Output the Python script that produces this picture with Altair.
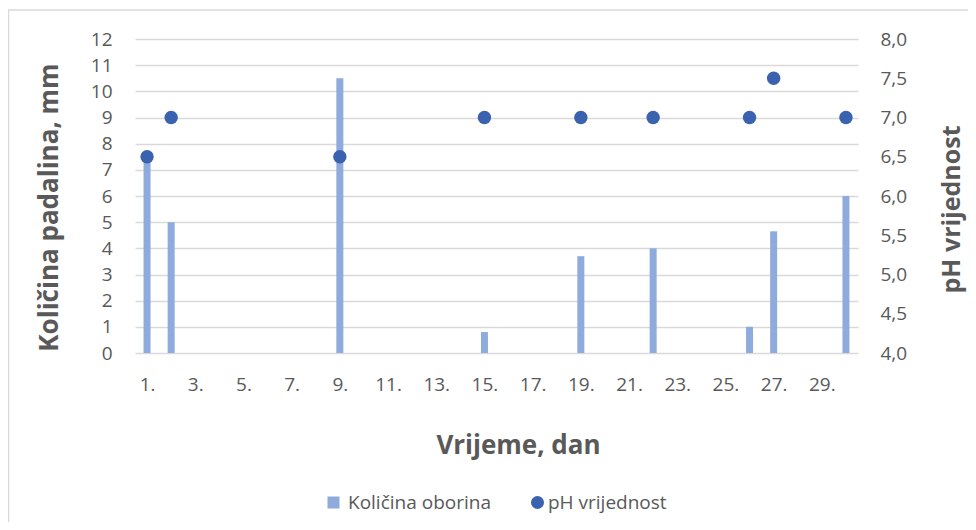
import altair as alt
import pandas as pd

FONT = "Open Sans"
TXT = "#595959"
GRID = "#d9d9d9"
BAR_COLOR = "#8FAADC"
DOT_COLOR = "#3A62AE"

# ---- data ----
rain_days = [1, 2, 9, 15, 19, 22, 26, 27, 30]
rain_mm = [7.5, 5.0, 10.5, 0.8, 3.7, 4.0, 1.0, 4.65, 6.0]
ph_days = [1, 2, 9, 15, 19, 22, 26, 27, 30]
ph_values = [6.5, 7.0, 6.5, 7.0, 7.0, 7.0, 7.0, 7.5, 7.0]
x_ticks = [1, 3, 5, 7, 9, 11, 13, 15, 17, 19, 21, 23, 25, 27, 29]
left_ticks = [0, 1, 2, 3, 4, 5, 6, 7, 8, 9, 10, 11, 12]
right_ticks = [4.0, 4.5, 5.0, 5.5, 6.0, 6.5, 7.0, 7.5, 8.0]
rain_name = "Količina oborina"
ph_name = "pH vrijednost"

rain_df = pd.DataFrame({"dan": rain_days, "mm": rain_mm, "serija": [rain_name] * len(rain_days)})
ph_df = pd.DataFrame({"dan": ph_days, "ph": ph_values, "serija": [ph_name] * len(ph_days)})

W, H = 723, 314

x_scale = alt.Scale(domain=[0.5, 30.5], nice=False, zero=False, padding=0)

x_enc = alt.X(
    "dan:Q",
    scale=x_scale,
    axis=alt.Axis(
        values=x_ticks,
        labelExpr="datum.value + '.'",
        grid=False,
        domain=False,
        ticks=False,
        labelPadding=22,
        labelFontSize=19,
        title="Vrijeme, dan",
        titleFontSize=26,
        titleFontWeight="bold",
        titleX=383,
        titleY=92,
        titleAlign="center",
        titleBaseline="middle",
    ),
)

bars = alt.Chart(rain_df).mark_bar(size=7).encode(
    x=x_enc,
    y=alt.Y(
        "mm:Q",
        scale=alt.Scale(domain=[0, 12], nice=False),
        axis=alt.Axis(
            values=left_ticks,
            grid=True,
            gridColor=GRID,
            gridWidth=1.3,
            domain=False,
            ticks=False,
            labelPadding=23,
            labelFontSize=19,
            title="Količina padalina, mm",
            titleFontSize=26,
            titleFontWeight="bold",
            titleAngle=-90,
            titleX=-86,
            titleY=168,
            titleAlign="center",
            titleBaseline="middle",
        ),
    ),
    color=alt.Color(
        "serija:N",
        scale=alt.Scale(domain=[rain_name], range=[BAR_COLOR]),
        legend=alt.Legend(
            title=None,
            orient="none",
            legendX=189,
            legendY=454,
            symbolType="square",
            symbolSize=144,
            symbolStrokeWidth=0,
            labelFontSize=19,
            labelOffset=5,
            padding=0,
        ),
    ),
)

dots = alt.Chart(ph_df).mark_circle(size=180, opacity=1).encode(
    x=alt.X("dan:Q", scale=x_scale),
    y=alt.Y(
        "ph:Q",
        scale=alt.Scale(domain=[4, 8], nice=False, zero=False),
        axis=alt.Axis(
            orient="right",
            values=right_ticks,
            labelExpr="replace(format(datum.value, '.1f'), '.', ',')",
            grid=False,
            domain=False,
            ticks=False,
            labelPadding=22,
            labelFontSize=19,
            title="pH vrijednost",
            titleFontSize=25,
            titleFontWeight="bold",
            titleAngle=-90,
            titleX=93,
            titleY=170,
            titleAlign="center",
            titleBaseline="middle",
        ),
    ),
    color=alt.Color(
        "serija:N",
        scale=alt.Scale(domain=[ph_name], range=[DOT_COLOR]),
        legend=alt.Legend(
            title=None,
            orient="none",
            legendX=393,
            legendY=454,
            symbolType="circle",
            symbolSize=170,
            symbolStrokeWidth=0,
            labelFontSize=19,
            labelOffset=1,
            padding=0,
        ),
    ),
)

frame = alt.Chart(pd.DataFrame({"k": [0]})).mark_rect(
    fill=None, stroke="#d9d9d9", strokeWidth=1.5
).encode(
    x=alt.value(-126.5), x2=alt.value(W + 200), y=alt.value(-29), y2=alt.value(H + 300)
)

chart = (
    alt.layer(frame, bars, dots)
    .resolve_scale(y="independent", color="independent")
    .properties(
        width=W,
        height=H,
        autosize=alt.AutoSizeParams(type="none"),
        padding={"left": 127, "top": 31, "right": 110, "bottom": 169},
        background="white",
    )
    .configure_view(stroke=None)
    .configure_axis(labelColor=TXT, titleColor=TXT, labelFont=FONT, titleFont=FONT)
    .configure_legend(labelColor=TXT, labelFont=FONT)
)

chart.save("out.html", embed_options={"renderer": "svg", "actions": False})
